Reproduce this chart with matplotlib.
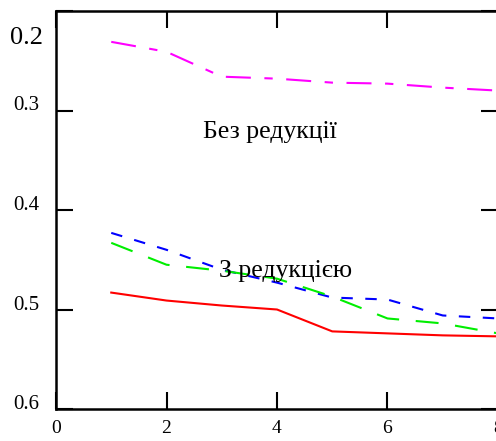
import numpy as np
import matplotlib.pyplot as plt
import matplotlib.transforms as mtransforms

plt.rcParams['font.family'] = ['Liberation Serif', 'DejaVu Serif']

x = [1, 2, 3, 4, 5, 6, 7, 8]
no_reduction = [0.231, 0.241, 0.266, 0.268, 0.272, 0.273, 0.277, 0.280]
red_line = [0.483, 0.491, 0.496, 0.500, 0.522, 0.524, 0.526, 0.527]
blue_line = [0.423, 0.440, 0.460, 0.473, 0.488, 0.490, 0.506, 0.509]
green_line = [0.433, 0.455, 0.461, 0.469, 0.487, 0.509, 0.514, 0.524]

xticks = [0, 2, 4, 6, 8]
yticks = [0.2, 0.3, 0.4, 0.5, 0.6]

fig = plt.figure(figsize=(4.96, 4.41), dpi=100)
ax = fig.add_axes([56 / 496, 1 - 409 / 441, 442 / 496, 398 / 441])

lw = 1.5
ax.plot(x, no_reduction, color='#ff00ff', lw=lw, dashes=(12, 6.5, 4, 6.5))
ax.plot(x, blue_line, color='#0000ff', lw=lw, dashes=(5.5, 6))
ax.plot(x, green_line, color='#00ee00', lw=lw, dashes=(11, 8))
ax.plot(x, red_line, color='#ff0000', lw=lw)

ax.set_xlim(0, 8)
ax.set_ylim(0.6, 0.2)
ax.set_xticks(xticks)
ax.set_yticks(yticks)
ax.set_xticklabels([str(v) for v in xticks])
ax.set_yticklabels([f"{v:.1f}" for v in yticks])

ax.tick_params(direction='in', length=12, width=1.5, top=True, right=True,
               labelsize=15)
ax.tick_params(axis='x', pad=8, labelsize=14)
ax.tick_params(axis='y', pad=12)
for s in ax.spines.values():
    s.set_linewidth(1.8)

# the 0.2 label sits lower and larger in the original
lab = ax.get_yticklabels()[0]
lab.set_fontsize(19)
lab.set_transform(lab.get_transform() + mtransforms.ScaledTranslation(4 / 100, -24 / 100, fig.dpi_scale_trans))
for lab in ax.get_yticklabels()[1:]:
    lab.set_transform(lab.get_transform() + mtransforms.ScaledTranslation(0, 7 / 100, fig.dpi_scale_trans))

ax.text(3.87, 0.322, "Без редукції", fontsize=18.5, ha='center', va='center')
ax.text(4.15, 0.461, "З редукцією", fontsize=18.5, ha='center', va='center')

fig.savefig("out.png", dpi=100)
